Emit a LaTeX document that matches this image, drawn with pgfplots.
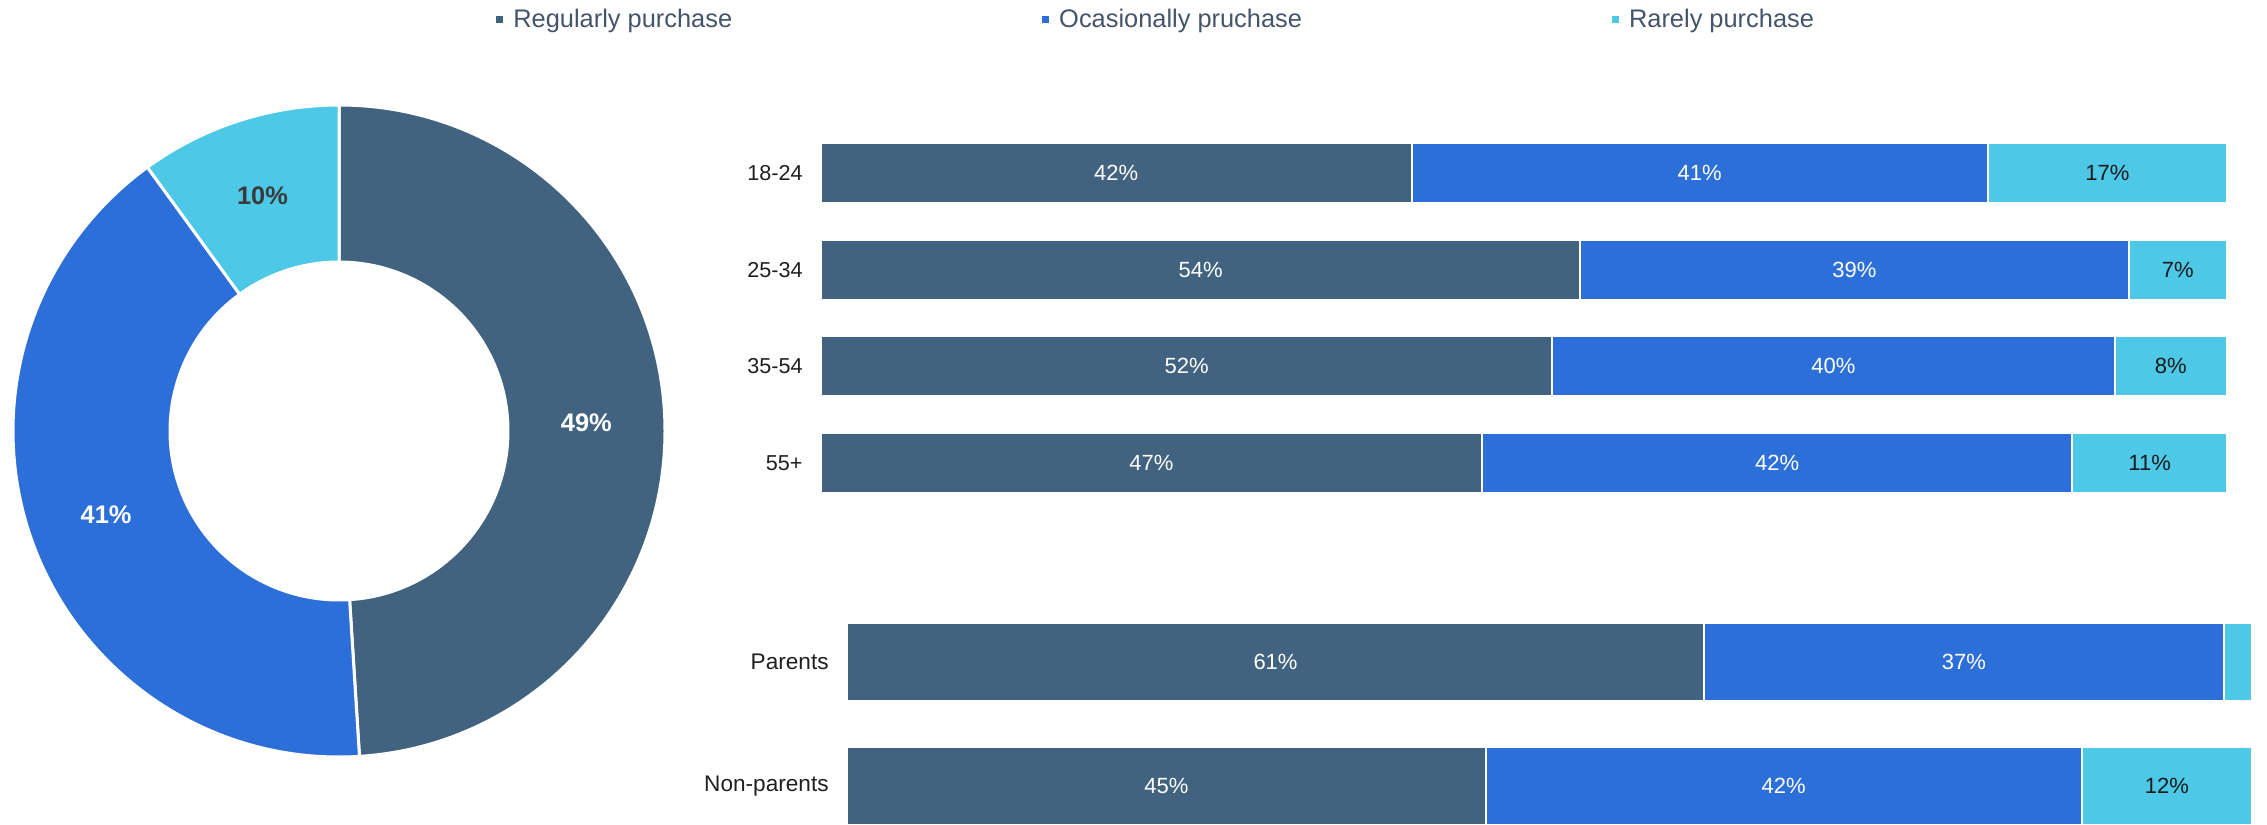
\documentclass[border=0pt]{standalone}
\usepackage{fontspec}
\setmainfont{Liberation Sans}
\usepackage{pgfplots}
\usepackage{pgfplotstable}
\pgfplotsset{compat=1.18}

\definecolor{cDark}{HTML}{41637F}
\definecolor{cBlue}{HTML}{2D6FD9}
\definecolor{cLight}{HTML}{4DC9E7}
\definecolor{cLeg}{HTML}{44546A}
\definecolor{cTick}{HTML}{1F1F1F}
\definecolor{cDarkTxt}{HTML}{1A1A1A}
\definecolor{cPieTxt}{HTML}{3A3A3A}

% donut data (overall)
\def\vReg{49}
\def\vOcc{41}
\def\vRar{10}
\pgfmathsetmacro\aA{90}
\pgfmathsetmacro\aB{\aA-3.6*\vReg}
\pgfmathsetmacro\aC{\aB-3.6*\vOcc}
\pgfmathsetmacro\aD{\aC-3.6*\vRar}
\pgfmathsetmacro\mA{(\aA+\aB)/2}
\pgfmathsetmacro\mB{(\aB+\aC)/2}
\pgfmathsetmacro\mC{(\aC+\aD)/2}
\def\Ro{163pt}
\def\Ri{84.5pt}
\def\Rm{123.75pt}

% age groups
\pgfplotstableread{
row r o ra
0 42 41 17
1 54 39 7
2 52 40 8
3 47 42 11
}\agetab

% parents / non-parents
\pgfplotstableread{
row r o ra
0 61 37 2
1 45 42 12
}\partab

\def\tot{(\thisrow{r}+\thisrow{o}+\thisrow{ra})}

\pgfplotsset{
  segbars/.style={
    scale only axis, xmin=0, xmax=100, y dir=reverse,
    xtick=\empty, axis line style={draw=none}, major tick length=0pt,
    clip=false,
    yticklabel style={inner sep=0pt, xshift=-9pt, text=cTick},
  },
  whitelab/.style={draw=none, mark=none, forget plot,
    point meta=explicit symbolic,
    nodes near coords={\pgfplotspointmeta\%},
    every node near coord/.append style={anchor=center, text=white, font=\fontsize{11}{13}\selectfont}},
  darklab/.style={draw=none, mark=none, forget plot,
    point meta=explicit symbolic,
    nodes near coords={\pgfplotspointmeta\%},
    every node near coord/.append style={anchor=center, text=cDarkTxt, font=\fontsize{11}{13}\selectfont}},
}

\begin{document}
\begin{tikzpicture}
\useasboundingbox (0pt,0pt) rectangle (1133.5pt,-412.5pt);

% ---------------- donut ----------------
\begin{axis}[
  at={(169.5pt,-215.5pt)}, anchor=center,
  scale only axis, width=326pt, height=326pt,
  xmin=-1, xmax=1, ymin=-1, ymax=1,
  hide axis, clip=false,
  legend columns=3,
  legend image code/.code={\fill[#1] (0pt,-1.75pt) rectangle (3.5pt,1.75pt);},
  legend style={at={(axis description cs:0.7408,1.1304)}, anchor=west,
    draw=none, fill=none, inner sep=0pt,
    font=\fontsize{12.7}{15}\selectfont, text=cLeg,
    /tikz/every odd column/.append style={column sep=3pt},
    /tikz/every even column/.append style={column sep=153pt}},
]
\addlegendimage{fill=cDark, draw=none}
\addlegendentry{Regularly purchase}
\addlegendimage{fill=cBlue, draw=none}
\addlegendentry{Ocasionally pruchase}
\addlegendimage{fill=cLight, draw=none}
\addlegendentry{Rarely purchase}

\fill[cDark, draw=white, line width=1.5pt]
  ([shift={(\aA:\Ro)}]axis cs:0,0) arc[start angle=\aA, end angle=\aB, radius=\Ro]
  -- ([shift={(\aB:\Ri)}]axis cs:0,0) arc[start angle=\aB, end angle=\aA, radius=\Ri] -- cycle;
\fill[cBlue, draw=white, line width=1.5pt]
  ([shift={(\aB:\Ro)}]axis cs:0,0) arc[start angle=\aB, end angle=\aC, radius=\Ro]
  -- ([shift={(\aC:\Ri)}]axis cs:0,0) arc[start angle=\aC, end angle=\aB, radius=\Ri] -- cycle;
\fill[cLight, draw=white, line width=1.5pt]
  ([shift={(\aC:\Ro)}]axis cs:0,0) arc[start angle=\aC, end angle=\aD, radius=\Ro]
  -- ([shift={(\aD:\Ri)}]axis cs:0,0) arc[start angle=\aD, end angle=\aC, radius=\Ri] -- cycle;

\node[text=white, font=\bfseries\fontsize{12.7}{15}\selectfont] at ([shift={(\mA:\Rm)}]axis cs:0,0) {\vReg\%};
\node[text=white, font=\bfseries\fontsize{12.7}{15}\selectfont] at ([shift={(\mB:\Rm)}]axis cs:0,0) {\vOcc\%};
\node[text=cPieTxt, font=\bfseries\fontsize{12.7}{15}\selectfont] at ([shift={(\mC:\Rm)}]axis cs:0,0) {\vRar\%};
\end{axis}

% ---------------- age groups ----------------
\begin{axis}[
  segbars,
  at={(410.5pt,-71.5pt)}, anchor=north west,
  width=703pt, height=175pt,
  ymin=-0.31, ymax=3.31,
  ytick={0,1,2,3}, yticklabels={18-24,25-34,35-54,55+},
  yticklabel style={font=\fontsize{10.8}{13}\selectfont},
]
\addplot[xbar, bar width=30pt, fill=cLight, draw=white, line width=1pt, forget plot]
  table[y=row, x expr={100*(\thisrow{r}+\thisrow{o}+\thisrow{ra})/\tot}] {\agetab};
\addplot[xbar, bar width=30pt, fill=cBlue, draw=white, line width=1pt, forget plot]
  table[y=row, x expr={100*(\thisrow{r}+\thisrow{o})/\tot}] {\agetab};
\addplot[xbar, bar width=30pt, fill=cDark, draw=white, line width=1pt, forget plot]
  table[y=row, x expr={100*\thisrow{r}/\tot}] {\agetab};
\addplot[whitelab] table[y=row, x expr={100*(\thisrow{r}/2)/\tot}, meta=r] {\agetab};
\addplot[whitelab] table[y=row, x expr={100*(\thisrow{r}+\thisrow{o}/2)/\tot}, meta=o] {\agetab};
\addplot[darklab] table[y=row, x expr={100*(\thisrow{r}+\thisrow{o}+\thisrow{ra}/2)/\tot}, meta=ra] {\agetab};
\end{axis}

% ---------------- parents / non-parents ----------------
\begin{axis}[
  segbars,
  at={(423.5pt,-311.5pt)}, anchor=north west,
  width=702.5pt, height=101pt,
  ymin=-0.315, ymax=1.315,
  ytick={0,1}, yticklabels={Parents,Non-parents},
  yticklabel style={font=\fontsize{11.3}{13}\selectfont},
]
\addplot[xbar, bar width=39pt, fill=cLight, draw=white, line width=1pt, forget plot]
  table[y=row, x expr={100*(\thisrow{r}+\thisrow{o}+\thisrow{ra})/\tot}] {\partab};
\addplot[xbar, bar width=39pt, fill=cBlue, draw=white, line width=1pt, forget plot]
  table[y=row, x expr={100*(\thisrow{r}+\thisrow{o})/\tot}] {\partab};
\addplot[xbar, bar width=39pt, fill=cDark, draw=white, line width=1pt, forget plot]
  table[y=row, x expr={100*\thisrow{r}/\tot}] {\partab};
\addplot[whitelab] table[y=row, x expr={100*(\thisrow{r}/2)/\tot}, meta=r] {\partab};
\addplot[whitelab] table[y=row, x expr={100*(\thisrow{r}+\thisrow{o}/2)/\tot}, meta=o] {\partab};
\addplot[darklab, skip coords between index={0}{1}]
  table[y=row, x expr={100*(\thisrow{r}+\thisrow{o}+\thisrow{ra}/2)/\tot}, meta=ra] {\partab};
\end{axis}
\end{tikzpicture}
\end{document}
